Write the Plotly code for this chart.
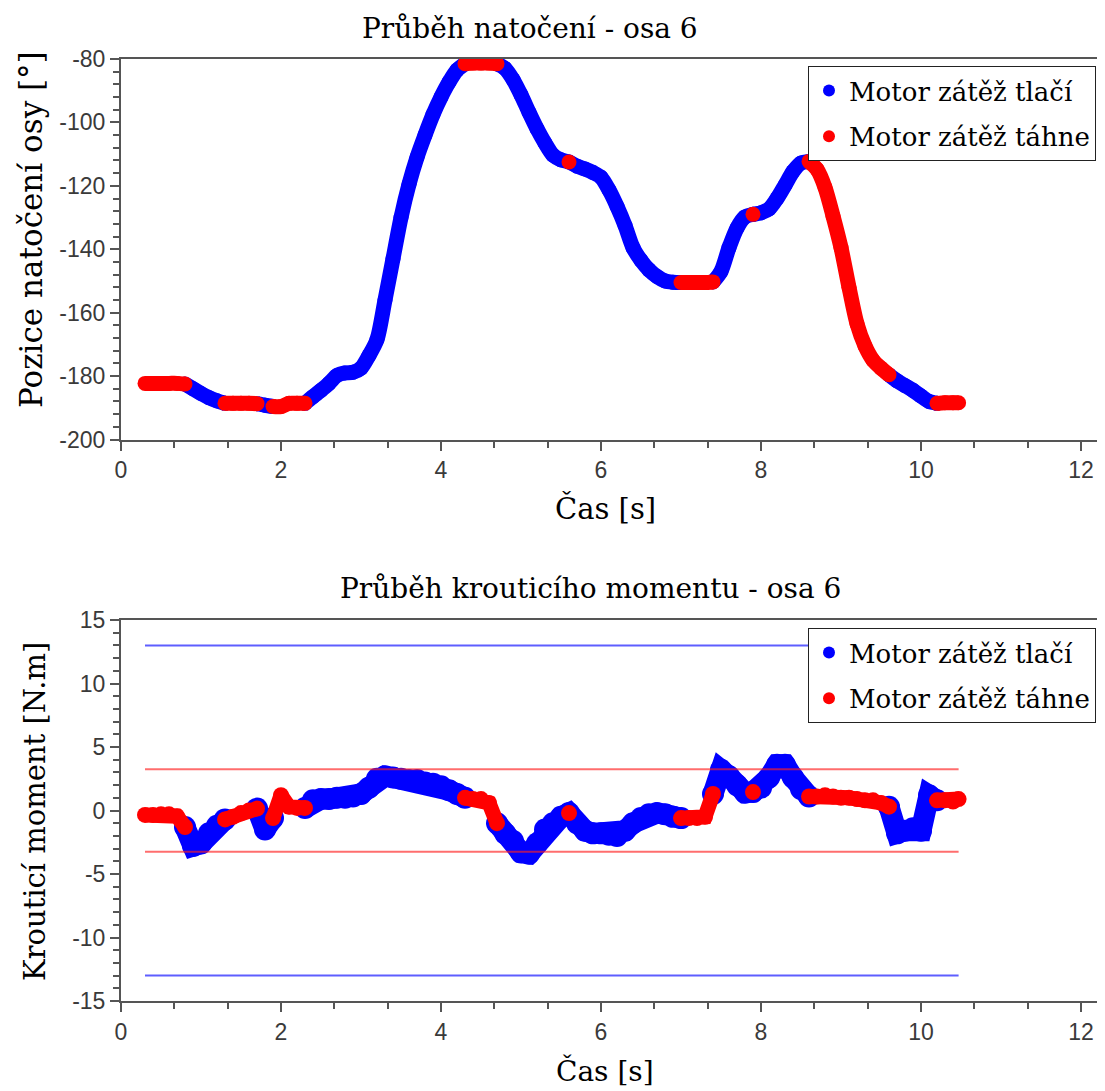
import numpy as np
import plotly.graph_objects as go

# ---------------- data ----------------
cas = [0.3, 0.4, 0.5, 0.6, 0.7, 0.8, 0.9, 1.0, 1.1, 1.2,
       1.3, 1.4, 1.5, 1.6, 1.7, 1.8, 1.9, 2.0, 2.1, 2.2,
       2.3, 2.4, 2.5, 2.6, 2.7, 2.8, 2.9, 3.0, 3.1, 3.2,
       3.3, 3.4, 3.5, 3.6, 3.7, 3.8, 3.9, 4.0, 4.1, 4.2,
       4.3, 4.4, 4.5, 4.6, 4.7, 4.8, 4.9, 5.0, 5.1, 5.2,
       5.3, 5.4, 5.5, 5.6, 5.7, 5.8, 5.9, 6.0, 6.1, 6.2,
       6.3, 6.4, 6.5, 6.6, 6.7, 6.8, 6.9, 7.0, 7.1, 7.2,
       7.3, 7.4, 7.5, 7.6, 7.7, 7.8, 7.9, 8.0, 8.1, 8.2,
       8.3, 8.4, 8.5, 8.6, 8.7, 8.8, 8.9, 9.0, 9.1, 9.2,
       9.3, 9.4, 9.5, 9.6, 9.7, 9.8, 9.9, 10.0, 10.1, 10.2,
       10.3, 10.4, 10.47]

natoceni = [-182.3, -182.3, -182.3, -182.3, -182.3, -182.5, -184.0, -185.5, -186.8, -187.8,
            -188.6, -188.6, -188.6, -188.6, -188.7, -189.2, -189.6, -189.6, -188.6, -188.6,
            -188.6, -186.5, -184.5, -182.3, -179.8, -179.0, -178.8, -177.5, -173.5, -168.5,
            -156.0, -143.0, -130.0, -119.5, -111.0, -104.0, -97.5, -92.0, -87.3, -83.5,
            -81.5, -81.3, -81.3, -81.3, -81.5, -83.0, -86.5, -91.3, -96.8, -102.0,
            -106.5, -110.3, -111.8, -112.5, -113.8, -114.7, -115.8, -117.3, -121.3, -126.5,
            -132.5, -139.5, -143.5, -146.5, -148.6, -150.0, -150.4, -150.5, -150.5, -150.5,
            -150.5, -150.3, -147.0, -139.5, -133.3, -129.8, -129.0, -128.5, -127.3, -124.0,
            -119.8, -115.5, -112.8, -112.3, -114.8, -120.5, -129.5, -139.5, -152.0, -163.5,
            -170.5, -175.0, -177.5, -179.6, -181.5, -183.0, -184.5, -186.3, -188.0, -188.6,
            -188.4, -188.4, -188.4]

moment = [-0.35, -0.35, -0.3, -0.3, -0.45, -1.3, -2.8, -2.6, -1.8, -1.2,
          -0.7, -0.5, -0.2, 0.0, 0.15, -1.5, -0.6, 1.2, 0.3, 0.2,
          0.2, 0.8, 0.9, 0.9, 1.0, 1.0, 1.1, 1.3, 1.8, 2.5,
          2.7, 2.6, 2.5, 2.4, 2.4, 2.2, 2.1, 1.9, 1.6, 1.3,
          1.0, 0.9, 0.9, 0.6, -1.0, -1.8, -2.4, -3.3, -3.4, -2.6,
          -1.5, -1.0, -0.5, -0.2, -1.0, -1.6, -1.8, -1.8, -1.9, -2.0,
          -1.6, -1.0, -0.6, -0.3, -0.2, -0.3, -0.5, -0.6, -0.6, -0.6,
          -0.5, 1.3, 3.2, 2.7, 2.0, 1.4, 1.45, 1.8, 2.6, 3.6,
          3.6, 2.6, 1.7, 1.1, 1.1, 1.2, 1.1, 1.0, 1.0, 0.9,
          0.8, 0.8, 0.6, 0.3, -1.8, -1.6, -1.4, -1.6, 1.2, 0.8,
          0.8, 0.7, 0.9]

# 1 = "Motor zátěž táhne" (red), 0 = "Motor zátěž tlačí" (blue)
tahne = [1, 1, 1, 1, 1, 1, 0, 0, 0, 0,
         1, 1, 1, 1, 1, 0, 1, 1, 1, 1,
         1, 0, 0, 0, 0, 0, 0, 0, 0, 0,
         0, 0, 0, 0, 0, 0, 0, 0, 0, 0,
         1, 1, 1, 1, 1, 0, 0, 0, 0, 0,
         0, 0, 0, 1, 0, 0, 0, 0, 0, 0,
         0, 0, 0, 0, 0, 0, 0, 1, 1, 1,
         1, 1, 0, 0, 0, 0, 1, 0, 0, 0,
         0, 0, 0, 1, 1, 1, 1, 1, 1, 1,
         1, 1, 1, 1, 0, 0, 0, 0, 0, 1,
         1, 1, 1]

limit_modra = 13.0   # blue limit lines (±)
limit_cervena = 3.25  # red limit lines (±)

nazev_tlaci = "Motor zátěž tlačí"
nazev_tahne = "Motor zátěž táhne"

x_ticks = [0, 2, 4, 6, 8, 10, 12]
x_ticktext = ["0", "2", "4", "6", "8", "10", "12"]
y1_ticks = [-200, -180, -160, -140, -120, -100, -80]
y1_ticktext = ["-200", "-180", "-160", "-140", "-120", "-100", "-80"]
y2_ticks = [-15, -10, -5, 0, 5, 10, 15]
y2_ticktext = ["-15", "-10", "-5", "0", "5", "10", "15"]

# ---------------- figure ----------------
# the page body has an 8 px margin, so the figure is drawn 8 px smaller and
# all reference pixel positions are shifted by that amount
OFF = 8
W, H = 1105 - OFF, 1091 - OFF
L = 121 - OFF
R = 2
PW = W - L - R

T = np.array(cas)
P = np.array(natoceni, dtype=float)
M = np.array(moment, dtype=float)
F = np.array(tahne)

red = F == 1
blue0 = F == 0
blue = blue0.copy()
blue[1:] |= blue0[:-1]
blue[:-1] |= blue0[1:]

BLUE = "#0000ff"
RED = "#ff0000"

def px_x(p):
    return (p - OFF - L) / PW

def px_y(p):
    return (H - (p - OFF)) / H

fig = go.Figure()

# top: position
fig.add_trace(go.Scatter(x=T, y=np.where(blue, P, np.nan), mode="lines+markers",
                         line=dict(color=BLUE, width=15, shape="spline", smoothing=0.8),
                         marker=dict(color=BLUE, size=15),
                         xaxis="x", yaxis="y", showlegend=False, hoverinfo="skip"))
fig.add_trace(go.Scatter(x=T, y=np.where(red, P, np.nan), mode="lines+markers",
                         line=dict(color=RED, width=15, shape="spline", smoothing=0.8),
                         marker=dict(color=RED, size=15),
                         xaxis="x", yaxis="y", showlegend=False, hoverinfo="skip"))

# bottom: torque
fig.add_trace(go.Scatter(x=T, y=np.where(blue, M, np.nan), mode="lines+markers",
                         line=dict(color=BLUE, width=21), marker=dict(color=BLUE, size=22),
                         xaxis="x2", yaxis="y2", showlegend=False, hoverinfo="skip"))
fig.add_trace(go.Scatter(x=T, y=np.where(red, M, np.nan), mode="lines+markers",
                         line=dict(color=RED, width=15), marker=dict(color=RED, size=16),
                         xaxis="x2", yaxis="y2", showlegend=False, hoverinfo="skip"))

# limit lines
for val, col in [(limit_modra, "rgba(40,40,255,0.75)"), (-limit_modra, "rgba(40,40,255,0.75)"),
                 (limit_cervena, "rgba(255,30,30,0.65)"), (-limit_cervena, "rgba(255,30,30,0.65)")]:
    fig.add_trace(go.Scatter(x=[T[0], T[-1]], y=[val, val], mode="lines",
                             line=dict(color=col, width=2), xaxis="x2", yaxis="y2",
                             showlegend=False, hoverinfo="skip"))

# legend entries
for lg, ax in [("legend", "y"), ("legend2", "y2")]:
    fig.add_trace(go.Scatter(x=[None], y=[None], mode="markers", name=nazev_tlaci,
                             marker=dict(color=BLUE, size=14), legend=lg, legendgroup=lg + "a",
                             xaxis="x" if ax == "y" else "x2", yaxis=ax))
    fig.add_trace(go.Scatter(x=[None], y=[None], mode="markers", name=nazev_tahne,
                             marker=dict(color=RED, size=14), legend=lg, legendgroup=lg + "b",
                             xaxis="x" if ax == "y" else "x2", yaxis=ax))

axis_common = dict(showline=True, linecolor="#555555", linewidth=2, mirror=True,
                   ticks="outside", ticklen=9, tickwidth=1.5, tickcolor="#555555",
                   showgrid=False, zeroline=False,
                   tickfont=dict(family="Liberation Sans", size=23, color="#3a3a3a"))

minor_x = dict(dtick=2 / 3, tick0=0, ticks="outside", ticklen=6, tickcolor="#555555")

xrange = [0, PW / 80.0]
top_dom = [px_y(439.5), px_y(59)]
bot_dom = [px_y(1001), px_y(620)]

leg_common = dict(xanchor="left", yanchor="top", bgcolor="white", bordercolor="#222222",
                  borderwidth=1, font=dict(family="DejaVu Serif", size=26, color="black"),
                  tracegroupgap=9, itemsizing="constant")

fig.update_layout(
    width=W, height=H,
    margin=dict(l=L, r=R, t=0, b=0, autoexpand=False),
    paper_bgcolor="white", plot_bgcolor="white",
    xaxis=dict(domain=[0, 1], anchor="y", range=xrange, tickmode="array",
               tickvals=x_ticks, ticktext=x_ticktext, minor=minor_x, **axis_common),
    yaxis=dict(domain=top_dom, anchor="x", range=[-200, -80], tickmode="array",
               tickvals=y1_ticks, ticktext=y1_ticktext,
               minor=dict(dtick=4, tick0=-200, ticks="outside", ticklen=6, tickcolor="#555555"),
               **axis_common),
    xaxis2=dict(domain=[0, 1], anchor="y2", range=xrange, tickmode="array",
                tickvals=x_ticks, ticktext=x_ticktext, minor=minor_x, **axis_common),
    yaxis2=dict(domain=bot_dom, anchor="x2", range=[-15, 15], tickmode="array",
                tickvals=y2_ticks, ticktext=y2_ticktext,
                minor=dict(dtick=1, tick0=-15, ticks="outside", ticklen=6, tickcolor="#555555"),
                **axis_common),
    legend=dict(x=px_x(808), y=px_y(66), **leg_common),
    legend2=dict(x=px_x(808), y=px_y(628), **leg_common),
    showlegend=True,
)

serif = "DejaVu Serif"
ann = [
    dict(text="Průběh natočení - osa 6", x=px_x(530), y=px_y(28), size=28, angle=0),
    dict(text="Průběh krouticího momentu - osa 6", x=px_x(590), y=px_y(588), size=28, angle=0),
    dict(text="Čas [s]", x=px_x(605), y=px_y(508), size=29, angle=0),
    dict(text="Čas [s]", x=px_x(605), y=px_y(1071), size=28, angle=0),
    dict(text="Pozice natočení osy [°]", x=px_x(31), y=px_y(230), size=31, angle=-90),
    dict(text="Krouticí moment [N.m]", x=px_x(35), y=px_y(812), size=29, angle=-90),
]
for a in ann:
    fig.add_annotation(text=a["text"], x=a["x"], y=a["y"], xref="paper", yref="paper",
                       xanchor="center", yanchor="middle", showarrow=False, textangle=a["angle"],
                       font=dict(family=serif, size=a["size"], color="black"))

fig.write_html("out.html")
